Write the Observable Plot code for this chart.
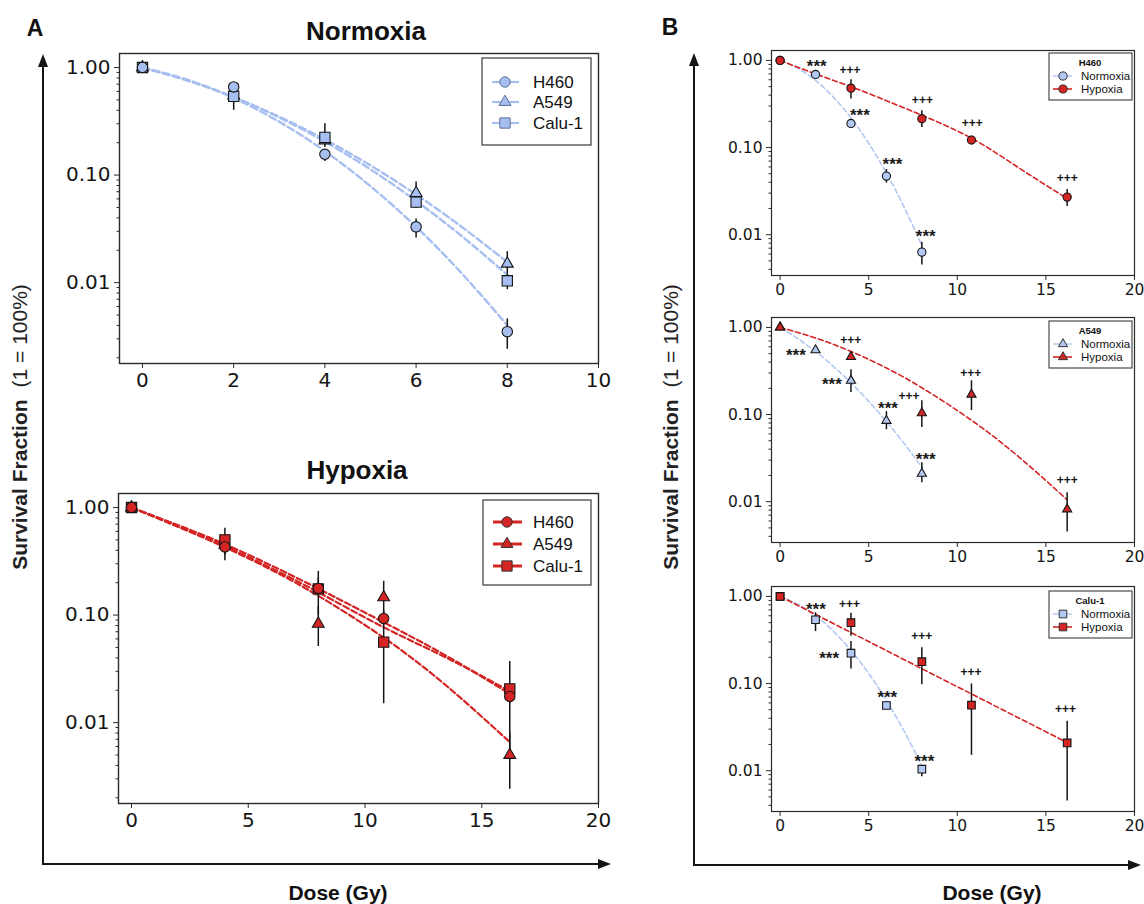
<!DOCTYPE html>
<html><head><meta charset="utf-8">
<script src="https://cdn.jsdelivr.net/npm/d3@7"></script>
<script src="https://cdn.jsdelivr.net/npm/@observablehq/plot@0.6"></script>
<style>
html,body{margin:0;padding:0;background:#fff;}
#fig{position:relative;width:1144px;height:904px;overflow:hidden;background:#fff;}
#fig .pane{position:absolute;}
#fig svg{overflow:visible;}
</style></head><body><div id="fig"></div>
<script>
// ---------------- DATA ----------------
const cellLines = ["H460", "A549", "Calu-1"];
const doseNormoxia = [0, 2, 4, 6, 8];
const doseHypoxia = [0, 4, 8, 10.8, 16.2];
const fitDoseNormoxia = [0, 1, 2, 3, 4, 5, 6, 7, 8];
const fitDoseHypoxia = [0, 2, 4, 6, 8, 10.8, 13.5, 16.2];

// Panel A – Normoxia
const aNormH460 = [1, 0.66, 0.156, 0.033, 0.0035];
const aNormH460Lo = [null, 0.62, 0.134, 0.026, 0.0024];
const aNormH460Hi = [null, 0.70, 0.17, 0.039, 0.0046];
const aNormA549 = [1, 0.55, 0.21, 0.068, 0.015];
const aNormA549Lo = [null, 0.48, 0.18, 0.055, 0.012];
const aNormA549Hi = [null, 0.62, 0.24, 0.086, 0.0194];
const aNormCalu = [1, 0.54, 0.224, 0.056, 0.0104];
const aNormCaluLo = [null, 0.40, 0.19, 0.049, 0.0086];
const aNormCaluHi = [null, 0.62, 0.30, 0.064, 0.012];
const aNormFitH460 = [1, 0.766, 0.52, 0.313, 0.167, 0.0787, 0.033, 0.0122, 0.004];
const aNormFitA549 = [1, 0.753, 0.53, 0.348, 0.214, 0.123, 0.066, 0.033, 0.0155];
const aNormFitCalu = [1, 0.757, 0.53, 0.343, 0.2045, 0.113, 0.0575, 0.0271, 0.0118];

// Panel A – Hypoxia
const aHypH460 = [1, 0.43, 0.177, 0.093, 0.0175];
const aHypH460Lo = [null, 0.32, 0.15, 0.08, 0.015];
const aHypH460Hi = [null, 0.52, 0.22, 0.11, 0.021];
const aHypA549 = [1, 0.45, 0.083, 0.146, 0.005];
const aHypA549Lo = [null, 0.40, 0.051, 0.10, 0.0024];
const aHypA549Hi = [null, 0.50, 0.12, 0.206, 0.008];
const aHypCalu = [1, 0.50, 0.175, 0.056, 0.0206];
const aHypCaluLo = [null, 0.36, 0.10, 0.015, 0.0045];
const aHypCaluHi = [null, 0.64, 0.255, 0.10, 0.037];
const aHypFitH460 = [1, 0.684, 0.457, 0.288, 0.176, 0.0857, 0.0416, 0.0185];
const aHypFitA549 = [1, 0.66, 0.427, 0.263, 0.151, 0.0617, 0.0219, 0.0066];
const aHypFitCalu = [1, 0.675, 0.44, 0.272, 0.163, 0.077, 0.040, 0.0196];

// Panel B – H460
const bH460Norm = [1, 0.69, 0.189, 0.047, 0.0063];
const bH460NormLo = [null, 0.64, 0.17, 0.039, 0.0045];
const bH460NormHi = [null, 0.74, 0.21, 0.056, 0.0082];
const bH460Hyp = [1, 0.48, 0.214, 0.122, 0.027];
const bH460HypLo = [null, 0.36, 0.17, 0.11, 0.021];
const bH460HypHi = [null, 0.60, 0.265, 0.135, 0.033];
const bH460FitNorm = [1, 0.814, 0.59, 0.381, 0.219, 0.112, 0.051, 0.0207, 0.0075];
const bH460FitHyp = [1, 0.70, 0.50, 0.345, 0.235, 0.128, 0.058, 0.026];
const bH460SigText = ["***", "+++", "***", "+++", "***", "+++", "***", "+++"];
const bH460SigDose = [2.07, 3.95, 4.5, 8.03, 6.34, 10.85, 8.22, 16.21];
const bH460SigSF = [0.97, 0.77, 0.265, 0.352, 0.072, 0.189, 0.011, 0.045];

// Panel B – A549
const bA549Norm = [1, 0.55, 0.245, 0.085, 0.021];
const bA549NormLo = [null, 0.52, 0.179, 0.067, 0.0165];
const bA549NormHi = [null, 0.58, 0.326, 0.108, 0.028];
const bA549Hyp = [1, 0.46, 0.104, 0.17, 0.0082];
const bA549HypLo = [null, 0.43, 0.071, 0.111, 0.0045];
const bA549HypHi = [null, 0.50, 0.144, 0.244, 0.0127];
const bA549FitNorm = [1, 0.745, 0.53, 0.358, 0.231, 0.142, 0.083, 0.0466, 0.0248];
const bA549FitHyp = [1, 0.757, 0.53, 0.342, 0.203, 0.086, 0.0323, 0.0105];
const bA549SigText = ["***", "+++", "***", "***", "+++", "+++", "***", "+++"];
const bA549SigDose = [0.89, 3.99, 2.92, 6.09, 7.28, 10.76, 8.22, 16.2];
const bA549SigSF = [0.55, 0.72, 0.255, 0.133, 0.161, 0.30, 0.035, 0.0175];

// Panel B – Calu-1
const bCaluNorm = [1, 0.54, 0.223, 0.056, 0.0104];
const bCaluNormLo = [null, 0.395, 0.147, 0.052, 0.0085];
const bCaluNormHi = [null, 0.65, 0.303, 0.060, 0.0115];
const bCaluHyp = [1, 0.50, 0.178, 0.0565, 0.0208];
const bCaluHypLo = [null, 0.35, 0.097, 0.015, 0.0045];
const bCaluHypHi = [null, 0.64, 0.258, 0.099, 0.037];
const bCaluFitNorm = [1, 0.815, 0.60, 0.40, 0.24, 0.1306, 0.064, 0.0285, 0.0114];
const bCaluFitHyp = [1, 0.621, 0.385, 0.239, 0.148, 0.076, 0.040, 0.021];
const bCaluSigText = ["***", "+++", "***", "***", "+++", "+++", "***", "+++"];
const bCaluSigDose = [2.02, 3.92, 2.77, 6.05, 7.99, 10.78, 8.14, 16.1];
const bCaluSigSF = [0.80, 0.82, 0.223, 0.079, 0.346, 0.135, 0.0146, 0.0504];

const yMajorTicks = [0.01, 0.1, 1];
const xTicksNormoxia = [0, 2, 4, 6, 8, 10];
const xTicksHypoxia = [0, 5, 10, 15, 20];

// ---------------- HELPERS ----------------
const colNormA = "#a7bff0";
const colNormB = "#b3c8f2";
const colHyp = "#d42424";
const ink = "#151515";

function rows(doses, vals, lo, hi) {
  return doses.map((d, i) => ({dose: d, sf: vals[i], lo: lo ? lo[i] : null, hi: hi ? hi[i] : null}));
}
function sigRows(texts, doses, sfs) {
  return texts.map((t, i) => ({t, dose: doses[i], sf: sfs[i]}));
}
const minorTicks = [];
for (const dec of [0.001, 0.01, 0.1]) for (let k = 2; k <= 9; k++) minorTicks.push(+(k * dec).toPrecision(3));

const fig = document.getElementById("fig");

function panel(cfg) {
  const yDom = cfg.yDomain;
  const minor = minorTicks.filter(v => v > yDom[0] && v < yDom[1]);
  const marks = [
    Plot.frame({stroke: "#2a2a2a", strokeWidth: cfg.frameW}),
    Plot.axisX({ticks: cfg.xTicks, tickSize: 5, tickPadding: cfg.tickPad, fontSize: cfg.tickFont, label: null, stroke: "#2a2a2a"}),
    Plot.axisY({ticks: yMajorTicks, tickSize: 5, tickPadding: 4, fontSize: cfg.tickFont, label: null, tickFormat: d3.format(".2f"), stroke: "#2a2a2a"}),
    Plot.axisY({ticks: minor, tickSize: 2.5, tickFormat: () => "", label: null, stroke: "#2a2a2a"})
  ];
  for (const s of cfg.series) {
    marks.push(Plot.line(s.fit, {x: "dose", y: "sf", stroke: s.lineColor, strokeWidth: cfg.lineW, strokeDasharray: cfg.dash, curve: "natural"}));
  }
  for (const s of cfg.series) {
    marks.push(Plot.ruleX(s.pts.filter(d => d.lo != null), {x: "dose", y1: "lo", y2: "hi", stroke: ink, strokeWidth: 1.5}));
  }
  for (const s of cfg.series) {
    marks.push(Plot.dot(s.pts, {x: "dose", y: "sf", symbol: s.symbol, r: s.r, fill: s.fill, stroke: ink, strokeWidth: 1.1}));
  }
  if (cfg.sig) {
    marks.push(Plot.text(cfg.sig.filter(d => d.t === "***"), {x: "dose", y: "sf", text: "t", fontSize: 17, fontWeight: "bold", fontFamily: "Liberation Sans", fill: "#1a1a1a", dy: 5}));
    marks.push(Plot.text(cfg.sig.filter(d => d.t === "+++"), {x: "dose", y: "sf", text: "t", fontSize: 12, fontWeight: "bold", fontFamily: "Liberation Sans", fill: "#111", dy: 0}));
  }
  const p = Plot.plot({
    width: cfg.width, height: cfg.height,
    marginLeft: cfg.ml, marginRight: cfg.mr, marginTop: cfg.mt, marginBottom: cfg.mb,
    x: {type: "linear", domain: cfg.xDomain},
    y: {type: "log", domain: yDom},
    style: {fontFamily: "DejaVu Sans", color: "#151515", background: "transparent", overflow: "visible"},
    marks
  });
  const wrap = document.createElement("div");
  wrap.className = "pane";
  wrap.style.left = cfg.left + "px";
  wrap.style.top = cfg.top + "px";
  wrap.appendChild(p);
  fig.appendChild(wrap);
}

// ---------------- PANEL A ----------------
const aY = [0.00177, 1.35];
const symA = {"H460": ["circle", 5.2], "A549": ["triangle", 4.4], "Calu-1": ["square", 5.8]};
const symB = {"H460": ["circle", 4.1], "A549": ["triangle", 3.4], "Calu-1": ["square", 4.3]};

panel({
  left: 55, top: 40, width: 570, height: 370, ml: 64, mr: 27, mt: 13, mb: 47,
  xDomain: [-0.504, 10], yDomain: aY, xTicks: xTicksNormoxia, tickFont: 20, tickPad: 4, frameW: 1.4,
  lineW: 2.4, dash: "7,3.5",
  series: [
    {symbol: symA["A549"][0], r: symA["A549"][1], fill: colNormA, lineColor: colNormA, pts: rows(doseNormoxia, aNormA549, aNormA549Lo, aNormA549Hi), fit: rows(fitDoseNormoxia, aNormFitA549)},
    {symbol: symA["Calu-1"][0], r: symA["Calu-1"][1], fill: colNormA, lineColor: colNormA, pts: rows(doseNormoxia, aNormCalu, aNormCaluLo, aNormCaluHi), fit: rows(fitDoseNormoxia, aNormFitCalu)},
    {symbol: symA["H460"][0], r: symA["H460"][1], fill: colNormA, lineColor: colNormA, pts: rows(doseNormoxia, aNormH460, aNormH460Lo, aNormH460Hi), fit: rows(fitDoseNormoxia, aNormFitH460)}
  ]
});

panel({
  left: 55, top: 480, width: 570, height: 360, ml: 63, mr: 27, mt: 13, mb: 37,
  xDomain: [-0.557, 20], yDomain: aY, xTicks: xTicksHypoxia, tickFont: 20, tickPad: 4, frameW: 1.4,
  lineW: 2.2, dash: "6,3",
  series: [
    {symbol: symA["A549"][0], r: symA["A549"][1], fill: colHyp, lineColor: colHyp, pts: rows(doseHypoxia, aHypA549, aHypA549Lo, aHypA549Hi), fit: rows(fitDoseHypoxia, aHypFitA549)},
    {symbol: symA["Calu-1"][0], r: symA["Calu-1"][1], fill: colHyp, lineColor: colHyp, pts: rows(doseHypoxia, aHypCalu, aHypCaluLo, aHypCaluHi), fit: rows(fitDoseHypoxia, aHypFitCalu)},
    {symbol: symA["H460"][0], r: symA["H460"][1], fill: colHyp, lineColor: colHyp, pts: rows(doseHypoxia, aHypH460, aHypH460Lo, aHypH460Hi), fit: rows(fitDoseHypoxia, aHypFitH460)}
  ]
});

// ---------------- PANEL B ----------------
const bY = [0.0034, 1.30];
const bSets = [
  {top: 40, line: "H460", norm: [bH460Norm, bH460NormLo, bH460NormHi, bH460FitNorm], hyp: [bH460Hyp, bH460HypLo, bH460HypHi, bH460FitHyp], sig: [bH460SigText, bH460SigDose, bH460SigSF]},
  {top: 307, line: "A549", norm: [bA549Norm, bA549NormLo, bA549NormHi, bA549FitNorm], hyp: [bA549Hyp, bA549HypLo, bA549HypHi, bA549FitHyp], sig: [bA549SigText, bA549SigDose, bA549SigSF]},
  {top: 576, line: "Calu-1", norm: [bCaluNorm, bCaluNormLo, bCaluNormHi, bCaluFitNorm], hyp: [bCaluHyp, bCaluHypLo, bCaluHypHi, bCaluFitHyp], sig: [bCaluSigText, bCaluSigDose, bCaluSigSF]}
];
for (const b of bSets) {
  const [sym, r] = symB[b.line];
  panel({
    left: 714, top: b.top, width: 429, height: 265, ml: 57, mr: 9, mt: 10, mb: 30,
    xDomain: [-0.485, 20], yDomain: bY, xTicks: xTicksHypoxia, tickFont: 15.5, tickPad: 3, frameW: 1.2,
    lineW: 1.6, dash: "5,3",
    series: [
      {symbol: sym, r, fill: colNormB, lineColor: colNormB, pts: rows(doseNormoxia, b.norm[0], b.norm[1], b.norm[2]), fit: rows(fitDoseNormoxia, b.norm[3])},
      {symbol: sym, r, fill: colHyp, lineColor: colHyp, pts: rows(doseHypoxia, b.hyp[0], b.hyp[1], b.hyp[2]), fit: rows(fitDoseHypoxia, b.hyp[3])}
    ],
    sig: sigRows(b.sig[0], b.sig[1], b.sig[2])
  });
}

// ---------------- OVERLAY: arrows, labels, legends ----------------
const ov = d3.select(fig).append("svg")
  .attr("width", 1144).attr("height", 904)
  .style("position", "absolute").style("left", "0px").style("top", "0px")
  .style("pointer-events", "none");

function arrows(x, yTip, yCorner, xTip) {
  ov.append("line").attr("x1", x).attr("y1", yCorner).attr("x2", x).attr("y2", yTip + 10).attr("stroke", ink).attr("stroke-width", 2);
  ov.append("path").attr("d", `M${x},${yTip} L${x - 5},${yTip + 13} L${x + 5},${yTip + 13} Z`).attr("fill", ink);
  ov.append("line").attr("x1", x - 1).attr("y1", yCorner).attr("x2", xTip - 10).attr("y2", yCorner).attr("stroke", ink).attr("stroke-width", 2);
  ov.append("path").attr("d", `M${xTip},${yCorner} L${xTip - 13},${yCorner - 5} L${xTip - 13},${yCorner + 5} Z`).attr("fill", ink);
}
arrows(43, 54, 864, 611);
arrows(694, 53, 865, 1141);

function txt(x, y, s, size, weight, anchor = "middle") {
  return ov.append("text").attr("x", x).attr("y", y).attr("text-anchor", anchor)
    .attr("font-family", "Liberation Sans, Arial, sans-serif").attr("font-size", size)
    .attr("font-weight", weight).attr("fill", "#111").text(s);
}
txt(35, 36, "A", 23, "bold");
txt(670, 35, "B", 23, "bold");
txt(366, 40, "Normoxia", 26, "bold");
txt(357, 479, "Hypoxia", 26, "bold");
txt(338, 900, "Dose (Gy)", 21, "bold");
txt(992, 900, "Dose (Gy)", 21, "bold");

function yLabel(x, yc) {
  const t = ov.append("text").attr("transform", `translate(${x},${yc}) rotate(-90)`)
    .attr("text-anchor", "middle").attr("font-family", "Liberation Sans, Arial, sans-serif")
    .attr("font-size", 21).attr("fill", "#222");
  t.append("tspan").attr("font-weight", "bold").text("Survival Fraction");
  t.append("tspan").attr("dx", 12).text("(1 = 100%)");
}
yLabel(27, 427);
yLabel(678, 427);

const symType = {circle: d3.symbolCircle, triangle: d3.symbolTriangle, square: d3.symbolSquare};
function legend(box, title, entries, o) {
  ov.append("rect").attr("x", box[0]).attr("y", box[1]).attr("width", box[2] - box[0]).attr("height", box[3] - box[1])
    .attr("fill", "#fff").attr("stroke", "#3a3a3a").attr("stroke-width", o.boxW);
  if (title) {
    ov.append("text").attr("x", title[1]).attr("y", title[2]).attr("text-anchor", "middle")
      .attr("dominant-baseline", "central").attr("font-family", "Liberation Sans, Arial, sans-serif")
      .attr("font-size", o.titleSize).attr("font-weight", "bold").attr("fill", "#111").text(title[0]);
  }
  for (const e of entries) {
    ov.append("line").attr("x1", o.lx0).attr("x2", o.lx1).attr("y1", e.y).attr("y2", e.y)
      .attr("stroke", e.color).attr("stroke-width", e.lw).attr("stroke-dasharray", e.dash || null);
    ov.append("path").attr("transform", `translate(${o.mx},${e.y})`)
      .attr("d", d3.symbol().type(symType[e.symbol]).size(e.r * e.r * Math.PI)())
      .attr("fill", e.fill).attr("stroke", e.stroke).attr("stroke-width", 1);
    ov.append("text").attr("x", o.tx).attr("y", e.y).attr("dominant-baseline", "central")
      .attr("font-family", "Liberation Sans, Arial, sans-serif").attr("font-size", o.fontSize)
      .attr("fill", "#111").text(e.label);
  }
}
// Panel A legends
const aNormYs = [82, 102, 123];
legend([482, 58, 591, 145], null, cellLines.map((c, i) => ({
  y: aNormYs[i], label: c, symbol: symA[c][0], r: symA[c][1], fill: colNormA, stroke: "#5a6f9c", color: colNormA, lw: 2.2
})), {boxW: 1.2, lx0: 492, lx1: 519, mx: 505, tx: 533, fontSize: 17});
const aHypYs = [522, 544, 566];
legend([483, 500, 591, 585], null, cellLines.map((c, i) => ({
  y: aHypYs[i], label: c, symbol: symA[c][0], r: symA[c][1], fill: colHyp, stroke: "#333", color: colHyp, lw: 3
})), {boxW: 1.2, lx0: 493, lx1: 522, mx: 507, tx: 533, fontSize: 17});
// Panel B legends
const bLegTop = [53, 321, 591];
bSets.forEach((b, k) => {
  const t = bLegTop[k];
  const [sym, r] = symB[b.line];
  legend([1049, t, 1132, t + 47], [b.line, 1090, t + 9], [
    {y: t + 23, label: "Normoxia", symbol: sym, r, fill: colNormB, stroke: "#333", color: colNormB, lw: 1.4},
    {y: t + 36, label: "Hypoxia", symbol: sym, r, fill: colHyp, stroke: "#333", color: colHyp, lw: 1.6}
  ], {boxW: 1.1, lx0: 1053, lx1: 1072, mx: 1063, tx: 1081, fontSize: 11.5, titleSize: 9.5});
});
</script>
</body></html>
